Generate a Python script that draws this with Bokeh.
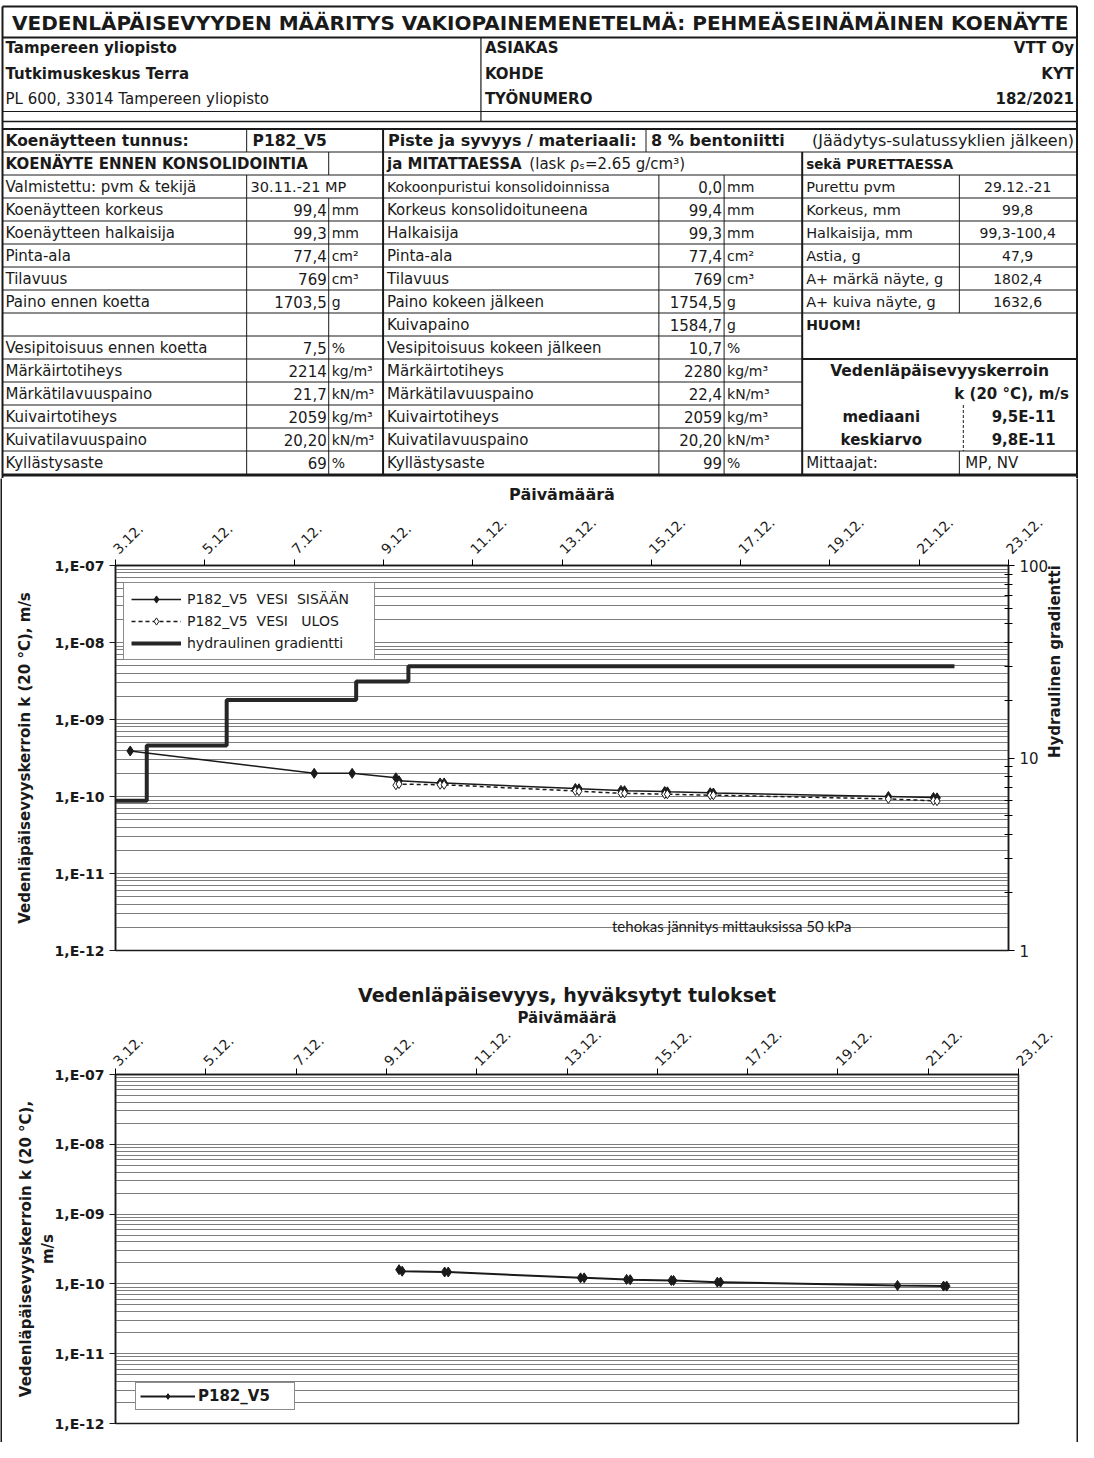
import math
from bokeh.plotting import figure
from bokeh.models import (Range1d, LogAxis, FixedTicker, CustomJSTickFormatter, Legend,
                          LegendItem, Label, LogScale)
from bokeh.layouts import column, row
from bokeh.embed import file_html
from bokeh.resources import INLINE
from bokeh.core.properties import value

FONT = "DejaVu Sans"
INK = "#1a1a1a"

# ---------------------------------------------------------------- data
title_text = "VEDENLÄPÄISEVYYDEN MÄÄRITYS VAKIOPAINEMENETELMÄ: PEHMEÄSEINÄMÄINEN KOENÄYTE"
org_lines = ["Tampereen yliopisto", "Tutkimuskeskus Terra", "PL 600,  33014 Tampereen yliopisto"]
info_keys = ["ASIAKAS", "KOHDE", "TYÖNUMERO"]
info_vals = ["VTT Oy", "KYT", "182/2021"]

sample_id = "P182_V5"
material_bold = "8 % bentoniitti"
material_rest = "(Jäädytys-sulatussyklien jälkeen)"

before_labels = ["Valmistettu: pvm & tekijä", "Koenäytteen korkeus", "Koenäytteen halkaisija",
                 "Pinta-ala", "Tilavuus", "Paino ennen koetta", "", "Vesipitoisuus ennen koetta",
                 "Märkäirtotiheys", "Märkätilavuuspaino", "Kuivairtotiheys", "Kuivatilavuuspaino",
                 "Kyllästysaste"]
before_values = ["30.11.-21 MP", "99,4", "99,3", "77,4", "769", "1703,5", "", "7,5",
                 "2214", "21,7", "2059", "20,20", "69"]
before_units = ["", "mm", "mm", "cm²", "cm³", "g", "", "%", "kg/m³", "kN/m³", "kg/m³", "kN/m³", "%"]

after_labels = ["Kokoonpuristui konsolidoinnissa", "Korkeus konsolidoituneena", "Halkaisija",
                "Pinta-ala", "Tilavuus", "Paino kokeen jälkeen", "Kuivapaino",
                "Vesipitoisuus kokeen jälkeen", "Märkäirtotiheys", "Märkätilavuuspaino",
                "Kuivairtotiheys", "Kuivatilavuuspaino", "Kyllästysaste"]
after_values = ["0,0", "99,4", "99,3", "77,4", "769", "1754,5", "1584,7", "10,7",
                "2280", "22,4", "2059", "20,20", "99"]
after_units = ["mm", "mm", "mm", "cm²", "cm³", "g", "g", "%", "kg/m³", "kN/m³", "kg/m³", "kN/m³", "%"]

dis_labels = ["Purettu pvm", "Korkeus, mm", "Halkaisija, mm", "Astia, g",
              "A+ märkä näyte, g", "A+ kuiva näyte, g"]
dis_values = ["29.12.-21", "99,8", "99,3-100,4", "47,9", "1802,4", "1632,6"]

k_stat_labels = ["mediaani", "keskiarvo"]
k_stat_values = ["9,5E-11", "9,8E-11"]
measurers = "MP, NV"

# chart axes
date_tick_days = [3, 5, 7, 9, 11, 13, 15, 17, 19, 21, 23]
date_tick_labels = ["3.12.", "5.12.", "7.12.", "9.12.", "11.12.", "13.12.",
                    "15.12.", "17.12.", "19.12.", "21.12.", "23.12."]
k_tick_values = [1e-12, 1e-11, 1e-10, 1e-9, 1e-8, 1e-7]
k_tick_labels = ["1,E-12", "1,E-11", "1,E-10", "1,E-09", "1,E-08", "1,E-07"]
grad_tick_values = [1, 10, 100]
grad_tick_labels = ["1", "10", "100"]

# chart 1 series (day of December, k in m/s)
sis_day = [3.33, 7.45, 8.30, 9.28, 9.35, 10.27, 10.36, 13.30, 13.38, 14.32, 14.40,
           15.30, 15.36, 16.32, 16.39, 20.31, 21.32, 21.40]
sis_k = [3.9e-10, 2.0e-10, 2.0e-10, 1.75e-10, 1.6e-10, 1.5e-10, 1.5e-10, 1.27e-10, 1.26e-10,
         1.2e-10, 1.19e-10, 1.16e-10, 1.15e-10, 1.12e-10, 1.11e-10, 1.0e-10, 0.97e-10, 0.96e-10]
ulo_day = [9.28, 9.35, 10.27, 10.36, 13.30, 13.38, 14.32, 14.40, 15.30, 15.36, 16.32, 16.39,
           20.31, 21.32, 21.40]
ulo_k = [1.40e-10, 1.45e-10, 1.42e-10, 1.42e-10, 1.18e-10, 1.17e-10, 1.10e-10, 1.10e-10,
         1.07e-10, 1.07e-10, 1.04e-10, 1.04e-10, 0.93e-10, 0.88e-10, 0.87e-10]
grad_day = [3.0, 3.70, 5.49, 8.39, 9.56, 21.79]
grad_val = [6.0, 11.6, 20.0, 25.0, 30.0, 30.0]
series_names = ["P182_V5  VESI  SISÄÄN", "P182_V5  VESI   ULOS", "hydraulinen gradientti"]
note_text = "tehokas jännitys mittauksissa 50 kPa"

# chart 2 series
acc_day = [9.28, 9.35, 10.29, 10.37, 13.30, 13.38, 14.32, 14.40, 15.31, 15.36, 16.33, 16.40,
           20.32, 21.34, 21.41]
acc_k = [1.6e-10, 1.52e-10, 1.48e-10, 1.48e-10, 1.22e-10, 1.22e-10, 1.16e-10, 1.15e-10,
         1.12e-10, 1.12e-10, 1.06e-10, 1.06e-10, 0.95e-10, 0.93e-10, 0.93e-10]
chart2_title = "Vedenläpäisevyys, hyväksytyt tulokset"
x_title = "Päivämäärä"
k_title = "Vedenläpäisevyyskerroin k (20 °C), m/s"
k_title2 = "Vedenläpäisevyyskerroin k (20 °C),\nm/s"
grad_title = "Hydraulinen gradientti"

# ---------------------------------------------------------------- table
TAB_H = 478
def X(rx):
    return 2.0 + (rx - 3.0) * 0.9885
def Y(ry):
    return ry

tab = figure(width=1078, height=TAB_H, x_range=Range1d(0, 1078), y_range=Range1d(TAB_H, 0),
             x_axis_type=None, y_axis_type=None, toolbar_location=None, output_backend="svg",
             min_border=0, outline_line_color=None)

segs = {}
def seg(x0, y0, x1, y1, w=1.0, dash="solid"):
    segs.setdefault((w, dash), []).append((X(x0), Y(y0), X(x1), Y(y1)))

texts = {}
def put(rx, ry, s, size=15, bold=False, align="left"):
    if s == "":
        return
    texts.setdefault((size, bold, align), []).append((X(rx), Y(ry), s))

def rc(i):
    return 140 + 23 * i
def rb(i):
    return 128.5 + 23 * i

L, R = 3, 1090
cB, cC, cD, cE, cF, cG, cH = 250, 333, 388, 667, 733, 812, 971

# horizontal lines
seg(L, 6, R, 6, 2)
seg(L, 37, R, 37, 2)
seg(L, 111, R, 111, 1.2)
seg(L, 121, R, 121, 1.5)
seg(L, rb(0), R, rb(0), 2)
seg(L, rb(1), R, rb(1), 1)
for i in range(2, 15):
    seg(L, rb(i), cG, rb(i), 1)
for i in [2, 3, 4, 5, 6, 7, 8, 14]:
    seg(cG, rb(i), R, rb(i), 1)
seg(cG, rb(10), R, rb(10), 2)
seg(L, rb(15) + 1, R, rb(15) + 1, 3)
# vertical lines
seg(L, 6, L, TAB_H, 2)
seg(R, 6, R, TAB_H, 2)
seg(487, 37, 487, 121, 1.2)
for x in [cB, cD, 654]:
    seg(x, rb(0), x, rb(1), 2 if x == cD else 1)
for x in [cC, cD, cG]:
    seg(x, rb(1), x, rb(2), 2 if x in (cD, cG) else 1)
for x in [cB, cE, cF]:
    seg(x, rb(2), x, rb(15), 1)
seg(cC, rb(3), cC, rb(15), 1)
seg(cD, rb(2), cD, rb(15), 2)
seg(cG, rb(2), cG, rb(15), 2)
seg(cH, rb(2), cH, rb(8), 1)
seg(cH, rb(14), cH, rb(15), 1)
seg(975, rb(12), 975, rb(14), 1, "3 2")

# header texts
put(547, 22, title_text, 20, True, "center")
for j, yy in enumerate([47, 73, 98]):
    put(6, yy, org_lines[j], 15, j < 2)
    put(491, yy, info_keys[j], 15, True)
    put(1087, yy, info_vals[j], 15, True, "right")

put(6, rc(0), "Koenäytteen tunnus:", 15.5, True)
put(256, rc(0), sample_id, 15.5, True)
put(393, rc(0), "Piste ja syvyys / materiaali:", 16, True)
put(659, rc(0), material_bold, 16, True)
put(1087, rc(0), material_rest, 16, False, "right")

put(6, rc(1), "KOENÄYTE ENNEN KONSOLIDOINTIA", 15, True)
put(392, rc(1), "ja MITATTAESSA", 15, True)
put(536, rc(1), "(lask ρₛ=2.65 g/cm³)", 15, False)
put(816, rc(1), "sekä PURETTAESSA", 13.5, True)

for j in range(13):
    i = j + 2
    put(6, rc(i), before_labels[j], 15)
    if j == 0:
        put(254, rc(i), before_values[j], 14.5)
    else:
        put(331, rc(i), before_values[j], 15, False, "right")
    put(336, rc(i), before_units[j], 14)
    put(392, rc(i), after_labels[j], 14 if j == 0 else 15)
    put(731, rc(i), after_values[j], 15, False, "right")
    put(736, rc(i), after_units[j], 14)
for j in range(6):
    put(816, rc(j + 2), dis_labels[j], 14.5)
    put(1030, rc(j + 2), dis_values[j], 14, False, "center")

put(816, rc(8), "HUOM!", 14, True)
put(951, rc(10), "Vedenläpäisevyyskerroin", 15.5, True, "center")
put(1087, rc(11), "k (20 °C),  m/s", 15, True, "right")
for j in range(2):
    put(892, rc(12 + j), k_stat_labels[j], 15, True, "center")
    put(1036, rc(12 + j), k_stat_values[j], 15, True, "center")
put(816, rc(14), "Mittaajat:", 15)
put(977, rc(14), measurers, 15)

for (w, dash), lst in segs.items():
    tab.segment(x0=[a[0] for a in lst], y0=[a[1] for a in lst],
                x1=[a[2] for a in lst], y1=[a[3] for a in lst],
                line_width=w, line_color=INK, line_dash=dash)
for (size, bold, align), lst in texts.items():
    tab.text(x=[a[0] for a in lst], y=[a[1] for a in lst], text=[a[2] for a in lst],
             text_font=value(FONT), text_font_size=value(f"{size}px"),
             text_font_style="bold" if bold else "normal", text_align=align,
             text_baseline="middle", text_color=INK)

# ---------------------------------------------------------------- chart helpers
def k_formatter():
    return CustomJSTickFormatter(args=dict(vals=k_tick_values, labs=k_tick_labels), code="""
        for (let i = 0; i < vals.length; i++) {
            if (Math.abs(Math.log10(tick) - Math.log10(vals[i])) < 1e-6) return labs[i];
        }
        return '';""")

def date_formatter():
    return CustomJSTickFormatter(args=dict(days=date_tick_days, labs=date_tick_labels), code="""
        for (let i = 0; i < days.length; i++) { if (Math.abs(tick - days[i]) < 1e-6) return labs[i]; }
        return '';""")

grid_ticks = [k * 10.0 ** e for e in range(-12, -7) for k in range(1, 10)] + [1e-7]

def setup_chart(p, xlabel_size, ylabel_text, ylabel_standoff, xlab_standoff, xtitle_standoff):
    p.xgrid.visible = False
    p.ygrid.ticker = FixedTicker(ticks=grid_ticks)
    p.ygrid.grid_line_color = "#7d7d7d"
    p.ygrid.grid_line_width = 1
    ya = p.yaxis[0]
    ya.ticker = FixedTicker(ticks=k_tick_values)
    ya.formatter = k_formatter()
    ya.major_label_text_font = FONT
    ya.major_label_text_font_size = "14px"
    ya.major_label_text_font_style = "bold"
    ya.major_label_text_color = INK
    ya.major_tick_out = 6
    ya.major_tick_in = 0
    ya.minor_tick_line_color = None
    ya.axis_line_color = INK
    ya.axis_line_width = 1.5
    ya.major_tick_line_color = INK
    ya.axis_label = ylabel_text
    ya.axis_label_text_font = FONT
    ya.axis_label_text_font_size = "15px"
    ya.axis_label_text_font_style = "bold"
    ya.axis_label_text_color = INK
    ya.axis_label_standoff = ylabel_standoff
    xa = p.xaxis[0]
    xa.ticker = FixedTicker(ticks=date_tick_days)
    xa.formatter = date_formatter()
    xa.major_label_orientation = math.pi / 4
    xa.major_label_text_font = FONT
    xa.major_label_text_font_size = "14px"
    xa.major_label_text_color = INK
    xa.major_label_standoff = xlab_standoff
    xa.major_tick_out = 6
    xa.major_tick_in = 0
    xa.minor_tick_line_color = None
    xa.axis_line_color = INK
    xa.axis_line_width = 1.5
    xa.axis_label = x_title
    xa.axis_label_text_font = FONT
    xa.axis_label_text_font_size = xlabel_size
    xa.axis_label_text_font_style = "bold"
    xa.axis_label_text_color = INK
    xa.axis_label_standoff = xtitle_standoff

# ---------------------------------------------------------------- chart 1
C1_H = 488
c1 = figure(width=1074, height=C1_H, x_range=Range1d(3, 23), y_range=Range1d(1e-12, 1e-7),
            y_axis_type="log", x_axis_location="above", toolbar_location=None,
            output_backend="svg", min_border_left=113, min_border_right=67,
            min_border_top=87, min_border_bottom=16, outline_line_color=INK,
            outline_line_width=1.5)
c1.frame_align = False
setup_chart(c1, "16px", k_title, 18, 8, 6)

c1.extra_y_ranges = {"grad": Range1d(1, 100)}
c1.extra_y_scales = {"grad": LogScale()}
grad_minor = [k * 10.0 ** e for e in range(0, 2) for k in range(2, 10)]
ra = LogAxis(y_range_name="grad", ticker=FixedTicker(ticks=grad_tick_values, minor_ticks=grad_minor))
ra.formatter = CustomJSTickFormatter(args=dict(vals=grad_tick_values, labs=grad_tick_labels), code="""
    for (let i = 0; i < vals.length; i++) { if (Math.abs(tick - vals[i]) < 1e-6) return labs[i]; }
    return '';""")
ra.major_label_text_font = FONT
ra.major_label_text_font_size = "15px"
ra.major_label_text_color = INK
ra.major_label_standoff = 5
ra.major_tick_out = 6
ra.major_tick_in = 0
ra.minor_tick_out = 4
ra.minor_tick_in = 4
ra.axis_line_color = INK
ra.axis_line_width = 1.5
ra.axis_label = grad_title
ra.axis_label_text_font = FONT
ra.axis_label_text_font_size = "15px"
ra.axis_label_text_font_style = "bold"
ra.axis_label_text_color = INK
ra.axis_label_standoff = 4
if "axis_label_orientation" in ra.properties():
    ra.axis_label_orientation = math.pi / 2
c1.add_layout(ra, "right")

g_r = c1.step(grad_day, grad_val, mode="after", y_range_name="grad", line_width=4,
              line_color="#262626")
l1 = c1.line(sis_day, sis_k, line_width=1.5, line_color=INK)
s1 = c1.scatter(sis_day, sis_k, marker="diamond", size=10, fill_color=INK, line_color=INK)
l2 = c1.line(ulo_day, ulo_k, line_width=1.5, line_color=INK, line_dash="4 3")
s2 = c1.scatter(ulo_day, ulo_k, marker="diamond", size=9, fill_color="white", line_color=INK)

leg1 = Legend(items=[LegendItem(label=series_names[0], renderers=[l1, s1]),
                     LegendItem(label=series_names[1], renderers=[l2, s2]),
                     LegendItem(label=series_names[2], renderers=[g_r])],
              location=(8, 290), label_text_font=FONT, label_text_font_size="14px",
              label_text_color=INK, glyph_width=50, glyph_height=18, label_height=18,
              label_width=180, label_standoff=6, padding=7, spacing=4, margin=0,
              border_line_color=INK, border_line_width=1, background_fill_alpha=1)
c1.add_layout(leg1)
c1.add_layout(Label(x=16.8, y=2.1e-12, text=note_text, text_font="Lato",
                    text_font_size="15px", text_align="center", text_baseline="middle",
                    text_color=INK))

# ---------------------------------------------------------------- chart 2
C2_H = 473
c2 = figure(width=1074, height=C2_H, x_range=Range1d(3, 23), y_range=Range1d(1e-12, 1e-7),
            y_axis_type="log", x_axis_location="above", toolbar_location=None,
            output_backend="svg", min_border_left=113, min_border_right=58,
            min_border_top=105, min_border_bottom=19, outline_line_color=INK,
            outline_line_width=1.5)
c2.frame_align = False
setup_chart(c2, "15px", k_title2, -5, 5, -5)
c2.title.text = chart2_title
c2.title.align = "center"
c2.title.text_font = FONT
c2.title.text_font_size = "19px"
c2.title.text_font_style = "bold"
c2.title.text_color = INK
c2.title.standoff = 0

l3 = c2.line(acc_day, acc_k, line_width=2, line_color=INK)
s3 = c2.scatter(acc_day, acc_k, marker="diamond", size=10, fill_color=INK, line_color=INK)
leg2 = Legend(items=[LegendItem(label=sample_id, renderers=[l3, s3])],
              location=(20, 13), label_text_font=FONT, label_text_font_size="15px",
              label_text_font_style="bold", label_text_color=INK, glyph_width=55,
              glyph_height=14, label_height=14, label_width=92, label_standoff=3, padding=4,
              margin=0, border_line_color=INK, border_line_width=1, background_fill_alpha=1)
c2.add_layout(leg2)

# ---------------------------------------------------------------- frame strips
def strip(w, h):
    f = figure(width=w, height=h, toolbar_location=None, output_backend="svg", min_border=0,
               x_axis_type=None, y_axis_type=None, outline_line_color=None,
               background_fill_color=INK, border_fill_color=INK,
               x_range=Range1d(0, 1), y_range=Range1d(0, 1))
    return f

SEP_H = 3
body_h = C1_H + SEP_H + C2_H
charts = column(c1, strip(1074, SEP_H), c2, spacing=0)
body = row(strip(2, body_h), charts, strip(2, body_h), spacing=0)
page = column(tab, body, spacing=0)

open("out.html", "w").write(file_html(page, INLINE))
